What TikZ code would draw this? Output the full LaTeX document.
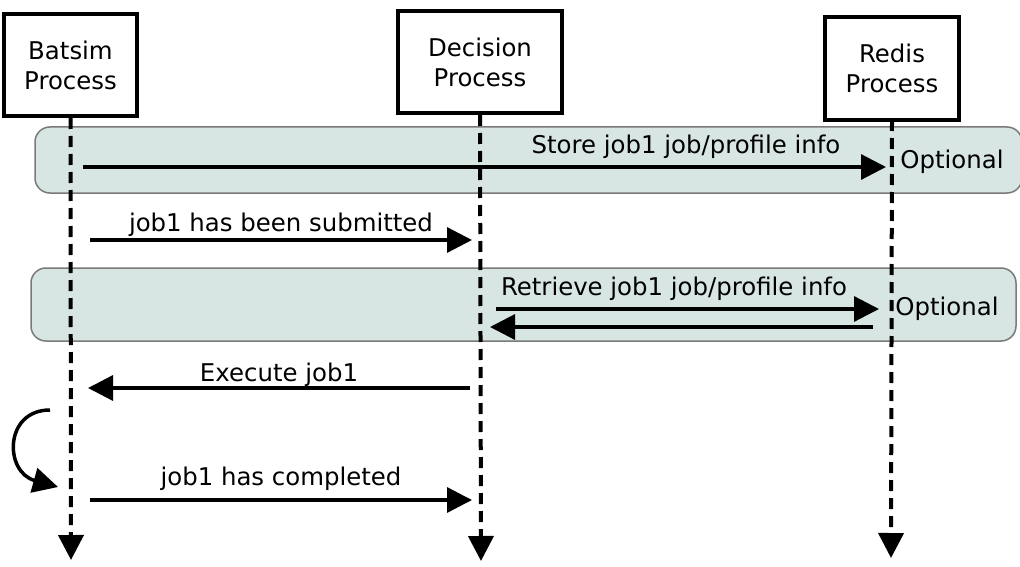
\documentclass[tikz,border=0pt]{standalone}
\usepackage{fontspec}
\setmainfont{DejaVu Sans}
\usetikzlibrary{arrows.meta}
\definecolor{bandfill}{HTML}{D7E5E3}
\definecolor{bandline}{HTML}{7A7A7A}
\begin{document}
\begin{tikzpicture}[x=1pt,y=-1pt,
  every node/.style={font=\fontsize{24.4}{30}\selectfont, inner sep=0pt},
  proc/.style={draw, line width=4pt, align=center},
  life/.style={line width=4pt, dash pattern=on 11pt off 7pt, -{Triangle[length=25pt,width=25pt]}},
  msg/.style={line width=3.2pt, -{Triangle[length=25pt,width=25pt]}},
  band/.style={draw=bandline, line width=1.5pt, fill=bandfill, rounded corners=15pt},
  lbl/.style={anchor=center}]
\useasboundingbox (0,0) rectangle (1020,567);
% bands
\draw[band] (35,127) rectangle (1022,193);
\draw[band] (31,268) rectangle (1016,341);
% process boxes
\node[proc, minimum width=133pt, minimum height=102pt] (bat) at (70.5,65) {Batsim\\Process};
\node[proc, minimum width=164pt, minimum height=102pt] (dec) at (480,62) {Decision\\Process};
\node[proc, minimum width=134pt, minimum height=103pt] (red) at (892,68.5) {Redis\\Process};
% lifeline ends
\coordinate (batend) at (71,560);
\coordinate (decend) at (481,561);
\coordinate (redend) at (891,558);
\draw[life] (bat.south) -- (batend);
\draw[life] (dec.south) -- (decend);
\draw[life] (red.south |- 0,120) -- (redend);
% optional labels
\node[lbl] (opt1) at (952,162) {Optional};
\node[lbl] (opt2) at (947,309) {Optional};
% message coordinates
\coordinate (m1a) at (83,167); \coordinate (m1b) at (886,167);
\coordinate (m2a) at (90,240); \coordinate (m2b) at (472,240);
\coordinate (m3a) at (496,309); \coordinate (m3b) at (879,309);
\coordinate (m4a) at (873,327); \coordinate (m4b) at (490,327);
\coordinate (m5a) at (470,388); \coordinate (m5b) at (88,388);
\coordinate (s1) at (50,410); \coordinate (s2) at (58,487);
\coordinate (m6a) at (90,500); \coordinate (m6b) at (472,500);
% messages
\draw[msg] (m1a) -- (m1b);
\node[lbl] (l1) at (686,147) {Store job1 job/profile info};
\draw[msg] (m2a) -- (m2b);
\node[lbl] (l2) at (281,225) {job1 has been submitted};
\draw[msg] (m3a) -- (m3b);
\draw[msg] (m4a) -- (m4b);
\node[lbl] (l3) at (674,289) {Retrieve job1 job/profile info};
\draw[msg] (m5a) -- (m5b);
\node[lbl] (l4) at (279,375) {Execute job1};
\draw[msg, line width=3.5pt] (s1) .. controls (4,410) and (4,472) .. (s2);
\draw[msg] (m6a) -- (m6b);
\node[lbl] (l5) at (281,479) {job1 has completed};
\end{tikzpicture}
\end{document}
